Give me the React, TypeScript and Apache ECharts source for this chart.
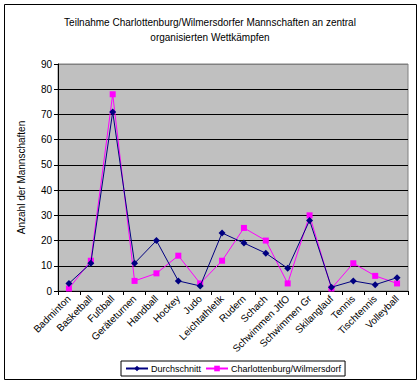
import React, { useEffect, useRef } from "react";
import * as echarts from "echarts";

const categories = [
  "Badminton", "Basketball", "Fußball", "Geräteturnen", "Handball", "Hockey", "Judo",
  "Leichtathletik", "Rudern", "Schach", "Schwimmen JtfO", "Schwimmen Gr", "Skilanglauf",
  "Tennis", "Tischtennis", "Volleyball",
];
const durchschnitt = [3, 11, 71, 11, 20, 4, 2, 23, 19, 15, 9, 28, 1.5, 4, 2.5, 5.3];
const charlottenburg = [1, 12, 78, 4, 7, 14, 3, 12, 25, 20, 3, 30, 1, 11, 6, 3];

const FONT = "Liberation Sans";

export default function App() {
  const ref = useRef<HTMLDivElement>(null);
  useEffect(() => {
    if (!ref.current) return;
    const chart = echarts.init(ref.current, null, { renderer: "svg" });
    chart.setOption({
      animation: false,
      backgroundColor: "#ffffff",
      textStyle: { fontFamily: FONT },
      title: {
        text: "Teilnahme Charlottenburg/Wilmersdorfer Mannschaften an zentral\norganisierten Wettkämpfen",
        left: "center",
        top: 10,
        textStyle: { fontSize: 10, fontWeight: "normal", color: "#000", lineHeight: 15, fontFamily: FONT },
      },
      graphic: [
        {
          type: "rect",
          shape: { x: 4.5, y: 4.5, width: 412, height: 375 },
          style: { fill: "none", stroke: "#000", lineWidth: 1 },
          silent: true,
          z: 100,
        },
      ],
      grid: {
        left: 58,
        right: 12,
        top: 64,
        bottom: 94,
        show: true,
        backgroundColor: "#c0c0c0",
        borderColor: "#808080",
        borderWidth: 1,
      },
      legend: {
        orient: "horizontal",
        left: 121,
        top: 361,
        padding: [3, 4, 3, 4],
        itemGap: 4,
        itemWidth: 22,
        itemHeight: 7,
        borderColor: "#000",
        borderWidth: 1,
        backgroundColor: "#fff",
        textStyle: { fontSize: 9, color: "#000", fontFamily: FONT, padding: [0, 0, 0, -2] },
        data: ["Durchschnitt", "Charlottenburg/Wilmersdorf"],
      },
      xAxis: {
        type: "category",
        data: categories,
        boundaryGap: true,
        axisLine: { lineStyle: { color: "#000", width: 1 } },
        axisTick: { show: true, length: 4, lineStyle: { color: "#000" } },
        axisLabel: { rotate: 45, fontSize: 10, color: "#000", margin: 6, interval: 0, fontFamily: FONT },
      },
      yAxis: {
        type: "value",
        min: 0,
        max: 90,
        interval: 10,
        name: "Anzahl der Mannschaften",
        nameLocation: "middle",
        nameGap: 32,
        nameTextStyle: { fontSize: 10, color: "#000", fontFamily: FONT },
        axisLine: { show: true, lineStyle: { color: "#000", width: 1 } },
        axisTick: { show: true, length: 4, lineStyle: { color: "#000" } },
        axisLabel: { fontSize: 10, color: "#000", margin: 6, fontFamily: FONT },
        splitLine: {
          show: true,
          lineStyle: {
            color: ["#000", "#000", "#000", "#000", "#000", "#000", "#000", "#000", "#000", "#808080"],
            width: 1,
          },
        },
      },
      series: [
        {
          name: "Durchschnitt",
          type: "line",
          data: durchschnitt,
          symbol: "diamond",
          symbolSize: 7,
          itemStyle: { color: "#000080" },
          lineStyle: { color: "#000080", width: 1 },
          z: 3,
        },
        {
          name: "Charlottenburg/Wilmersdorf",
          type: "line",
          data: charlottenburg,
          symbol: "rect",
          symbolSize: 6,
          itemStyle: { color: "#ff00ff" },
          lineStyle: { color: "#ff00ff", width: 1 },
          z: 2,
        },
      ],
    });
    return () => chart.dispose();
  }, []);
  return (
    <div
      ref={ref}
      style={{ position: "fixed", left: 0, top: 0, width: 420, height: 385 }}
    />
  );
}
